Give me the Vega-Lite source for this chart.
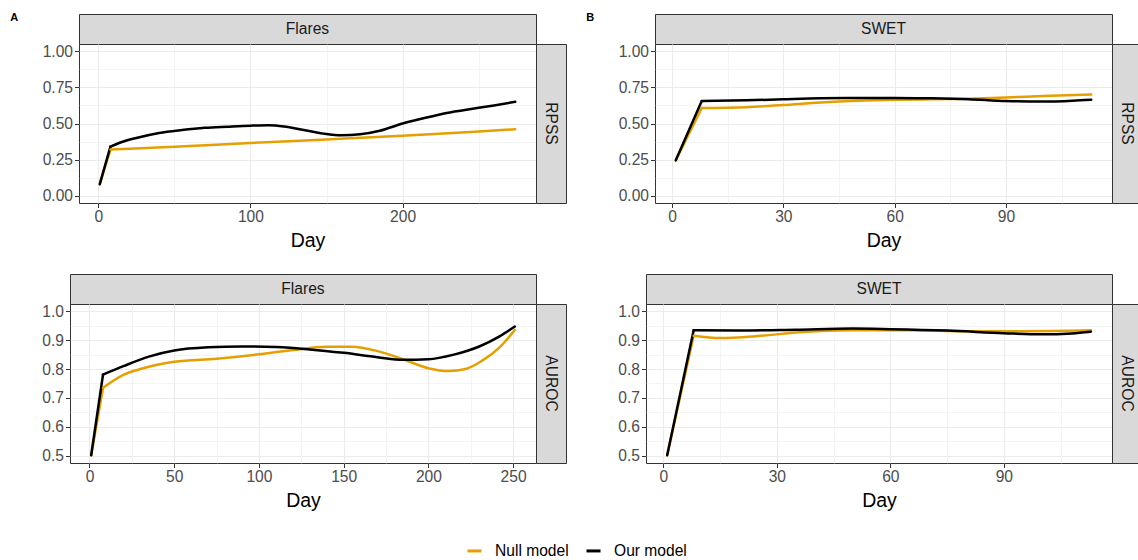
{
  "$schema": "https://vega.github.io/schema/vega-lite/v6.json",
  "background": "white",
  "padding": {"left": 10, "top": 11, "right": 0, "bottom": 5},
  "config": {
    "font": "Liberation Sans",
    "view": {"stroke": "#333333", "strokeWidth": 1},
    "axis": {
      "domain": false,
      "labelFontSize": 15.6,
      "labelColor": "#4d4d4d",
      "labelPadding": 2,
      "labelOverlap": false,
      "tickColor": "#333333",
      "tickSize": 4.5,
      "tickWidth": 1,
      "gridColor": "#ebebeb",
      "titleFontSize": 19.5,
      "titleFontWeight": "normal",
      "titleColor": "#000000",
      "titlePadding": 6
    },
    "legend": {
      "orient": "bottom",
      "direction": "horizontal",
      "title": null,
      "symbolType": "stroke",
      "symbolStrokeWidth": 3,
      "symbolSize": 196,
      "labelFontSize": 15.6,
      "labelColor": "#000000",
      "labelOffset": 12,
      "columnPadding": 11,
      "offset": 31,
      "layout": {"bottom": {"anchor": "middle"}}
    },
    "title": {"font": "Liberation Sans", "fontSize": 11, "fontWeight": "bold", "color": "#000000"}
  },
  "datasets": {
    "scores": [
      {"dataset": "Flares", "metric": "RPSS", "model": "Null model", "day": 1, "value": 0.08},
      {"dataset": "Flares", "metric": "RPSS", "model": "Null model", "day": 8, "value": 0.32},
      {"dataset": "Flares", "metric": "RPSS", "model": "Null model", "day": 50, "value": 0.34},
      {"dataset": "Flares", "metric": "RPSS", "model": "Null model", "day": 100, "value": 0.365},
      {"dataset": "Flares", "metric": "RPSS", "model": "Null model", "day": 150, "value": 0.39},
      {"dataset": "Flares", "metric": "RPSS", "model": "Null model", "day": 200, "value": 0.415},
      {"dataset": "Flares", "metric": "RPSS", "model": "Null model", "day": 250, "value": 0.445},
      {"dataset": "Flares", "metric": "RPSS", "model": "Null model", "day": 274, "value": 0.46},
      {"dataset": "Flares", "metric": "RPSS", "model": "Our model", "day": 1, "value": 0.08},
      {"dataset": "Flares", "metric": "RPSS", "model": "Our model", "day": 8, "value": 0.34},
      {"dataset": "Flares", "metric": "RPSS", "model": "Our model", "day": 15, "value": 0.37},
      {"dataset": "Flares", "metric": "RPSS", "model": "Our model", "day": 25, "value": 0.4},
      {"dataset": "Flares", "metric": "RPSS", "model": "Our model", "day": 40, "value": 0.435},
      {"dataset": "Flares", "metric": "RPSS", "model": "Our model", "day": 55, "value": 0.455},
      {"dataset": "Flares", "metric": "RPSS", "model": "Our model", "day": 70, "value": 0.47},
      {"dataset": "Flares", "metric": "RPSS", "model": "Our model", "day": 85, "value": 0.478},
      {"dataset": "Flares", "metric": "RPSS", "model": "Our model", "day": 100, "value": 0.485},
      {"dataset": "Flares", "metric": "RPSS", "model": "Our model", "day": 112, "value": 0.488},
      {"dataset": "Flares", "metric": "RPSS", "model": "Our model", "day": 122, "value": 0.48},
      {"dataset": "Flares", "metric": "RPSS", "model": "Our model", "day": 135, "value": 0.455},
      {"dataset": "Flares", "metric": "RPSS", "model": "Our model", "day": 148, "value": 0.43},
      {"dataset": "Flares", "metric": "RPSS", "model": "Our model", "day": 160, "value": 0.418},
      {"dataset": "Flares", "metric": "RPSS", "model": "Our model", "day": 172, "value": 0.425},
      {"dataset": "Flares", "metric": "RPSS", "model": "Our model", "day": 185, "value": 0.45},
      {"dataset": "Flares", "metric": "RPSS", "model": "Our model", "day": 200, "value": 0.5},
      {"dataset": "Flares", "metric": "RPSS", "model": "Our model", "day": 215, "value": 0.54},
      {"dataset": "Flares", "metric": "RPSS", "model": "Our model", "day": 230, "value": 0.575},
      {"dataset": "Flares", "metric": "RPSS", "model": "Our model", "day": 245, "value": 0.6},
      {"dataset": "Flares", "metric": "RPSS", "model": "Our model", "day": 260, "value": 0.625},
      {"dataset": "Flares", "metric": "RPSS", "model": "Our model", "day": 274, "value": 0.65},

      {"dataset": "SWET", "metric": "RPSS", "model": "Null model", "day": 1, "value": 0.245},
      {"dataset": "SWET", "metric": "RPSS", "model": "Null model", "day": 8, "value": 0.607},
      {"dataset": "SWET", "metric": "RPSS", "model": "Null model", "day": 20, "value": 0.613},
      {"dataset": "SWET", "metric": "RPSS", "model": "Null model", "day": 30, "value": 0.628},
      {"dataset": "SWET", "metric": "RPSS", "model": "Null model", "day": 40, "value": 0.645},
      {"dataset": "SWET", "metric": "RPSS", "model": "Null model", "day": 50, "value": 0.657},
      {"dataset": "SWET", "metric": "RPSS", "model": "Null model", "day": 60, "value": 0.664},
      {"dataset": "SWET", "metric": "RPSS", "model": "Null model", "day": 70, "value": 0.667},
      {"dataset": "SWET", "metric": "RPSS", "model": "Null model", "day": 80, "value": 0.672},
      {"dataset": "SWET", "metric": "RPSS", "model": "Null model", "day": 90, "value": 0.68},
      {"dataset": "SWET", "metric": "RPSS", "model": "Null model", "day": 100, "value": 0.69},
      {"dataset": "SWET", "metric": "RPSS", "model": "Null model", "day": 113, "value": 0.7},
      {"dataset": "SWET", "metric": "RPSS", "model": "Our model", "day": 1, "value": 0.245},
      {"dataset": "SWET", "metric": "RPSS", "model": "Our model", "day": 8, "value": 0.655},
      {"dataset": "SWET", "metric": "RPSS", "model": "Our model", "day": 20, "value": 0.66},
      {"dataset": "SWET", "metric": "RPSS", "model": "Our model", "day": 30, "value": 0.668},
      {"dataset": "SWET", "metric": "RPSS", "model": "Our model", "day": 40, "value": 0.675},
      {"dataset": "SWET", "metric": "RPSS", "model": "Our model", "day": 50, "value": 0.677},
      {"dataset": "SWET", "metric": "RPSS", "model": "Our model", "day": 60, "value": 0.676},
      {"dataset": "SWET", "metric": "RPSS", "model": "Our model", "day": 70, "value": 0.674},
      {"dataset": "SWET", "metric": "RPSS", "model": "Our model", "day": 80, "value": 0.668},
      {"dataset": "SWET", "metric": "RPSS", "model": "Our model", "day": 90, "value": 0.655},
      {"dataset": "SWET", "metric": "RPSS", "model": "Our model", "day": 100, "value": 0.652},
      {"dataset": "SWET", "metric": "RPSS", "model": "Our model", "day": 108, "value": 0.658},
      {"dataset": "SWET", "metric": "RPSS", "model": "Our model", "day": 113, "value": 0.665},

      {"dataset": "Flares", "metric": "AUROC", "model": "Null model", "day": 1, "value": 0.502},
      {"dataset": "Flares", "metric": "AUROC", "model": "Null model", "day": 8, "value": 0.735},
      {"dataset": "Flares", "metric": "AUROC", "model": "Null model", "day": 20, "value": 0.78},
      {"dataset": "Flares", "metric": "AUROC", "model": "Null model", "day": 30, "value": 0.8},
      {"dataset": "Flares", "metric": "AUROC", "model": "Null model", "day": 50, "value": 0.825},
      {"dataset": "Flares", "metric": "AUROC", "model": "Null model", "day": 75, "value": 0.836},
      {"dataset": "Flares", "metric": "AUROC", "model": "Null model", "day": 100, "value": 0.851},
      {"dataset": "Flares", "metric": "AUROC", "model": "Null model", "day": 120, "value": 0.866},
      {"dataset": "Flares", "metric": "AUROC", "model": "Null model", "day": 140, "value": 0.877},
      {"dataset": "Flares", "metric": "AUROC", "model": "Null model", "day": 155, "value": 0.877},
      {"dataset": "Flares", "metric": "AUROC", "model": "Null model", "day": 170, "value": 0.862},
      {"dataset": "Flares", "metric": "AUROC", "model": "Null model", "day": 185, "value": 0.834},
      {"dataset": "Flares", "metric": "AUROC", "model": "Null model", "day": 200, "value": 0.803},
      {"dataset": "Flares", "metric": "AUROC", "model": "Null model", "day": 212, "value": 0.793},
      {"dataset": "Flares", "metric": "AUROC", "model": "Null model", "day": 222, "value": 0.8},
      {"dataset": "Flares", "metric": "AUROC", "model": "Null model", "day": 232, "value": 0.83},
      {"dataset": "Flares", "metric": "AUROC", "model": "Null model", "day": 242, "value": 0.875},
      {"dataset": "Flares", "metric": "AUROC", "model": "Null model", "day": 251, "value": 0.935},
      {"dataset": "Flares", "metric": "AUROC", "model": "Our model", "day": 1, "value": 0.502},
      {"dataset": "Flares", "metric": "AUROC", "model": "Our model", "day": 8, "value": 0.781},
      {"dataset": "Flares", "metric": "AUROC", "model": "Our model", "day": 20, "value": 0.81},
      {"dataset": "Flares", "metric": "AUROC", "model": "Our model", "day": 35, "value": 0.843},
      {"dataset": "Flares", "metric": "AUROC", "model": "Our model", "day": 50, "value": 0.864},
      {"dataset": "Flares", "metric": "AUROC", "model": "Our model", "day": 70, "value": 0.875},
      {"dataset": "Flares", "metric": "AUROC", "model": "Our model", "day": 90, "value": 0.878},
      {"dataset": "Flares", "metric": "AUROC", "model": "Our model", "day": 110, "value": 0.876},
      {"dataset": "Flares", "metric": "AUROC", "model": "Our model", "day": 130, "value": 0.868},
      {"dataset": "Flares", "metric": "AUROC", "model": "Our model", "day": 150, "value": 0.856},
      {"dataset": "Flares", "metric": "AUROC", "model": "Our model", "day": 170, "value": 0.841},
      {"dataset": "Flares", "metric": "AUROC", "model": "Our model", "day": 185, "value": 0.832},
      {"dataset": "Flares", "metric": "AUROC", "model": "Our model", "day": 200, "value": 0.834},
      {"dataset": "Flares", "metric": "AUROC", "model": "Our model", "day": 215, "value": 0.85},
      {"dataset": "Flares", "metric": "AUROC", "model": "Our model", "day": 230, "value": 0.878},
      {"dataset": "Flares", "metric": "AUROC", "model": "Our model", "day": 242, "value": 0.913},
      {"dataset": "Flares", "metric": "AUROC", "model": "Our model", "day": 251, "value": 0.947},

      {"dataset": "SWET", "metric": "AUROC", "model": "Null model", "day": 1, "value": 0.502},
      {"dataset": "SWET", "metric": "AUROC", "model": "Null model", "day": 8, "value": 0.915},
      {"dataset": "SWET", "metric": "AUROC", "model": "Null model", "day": 15, "value": 0.907},
      {"dataset": "SWET", "metric": "AUROC", "model": "Null model", "day": 25, "value": 0.914},
      {"dataset": "SWET", "metric": "AUROC", "model": "Null model", "day": 35, "value": 0.926},
      {"dataset": "SWET", "metric": "AUROC", "model": "Null model", "day": 50, "value": 0.934},
      {"dataset": "SWET", "metric": "AUROC", "model": "Null model", "day": 65, "value": 0.934},
      {"dataset": "SWET", "metric": "AUROC", "model": "Null model", "day": 80, "value": 0.931},
      {"dataset": "SWET", "metric": "AUROC", "model": "Null model", "day": 95, "value": 0.931},
      {"dataset": "SWET", "metric": "AUROC", "model": "Null model", "day": 113, "value": 0.934},
      {"dataset": "SWET", "metric": "AUROC", "model": "Our model", "day": 1, "value": 0.502},
      {"dataset": "SWET", "metric": "AUROC", "model": "Our model", "day": 8, "value": 0.934},
      {"dataset": "SWET", "metric": "AUROC", "model": "Our model", "day": 20, "value": 0.933},
      {"dataset": "SWET", "metric": "AUROC", "model": "Our model", "day": 35, "value": 0.936},
      {"dataset": "SWET", "metric": "AUROC", "model": "Our model", "day": 50, "value": 0.94},
      {"dataset": "SWET", "metric": "AUROC", "model": "Our model", "day": 60, "value": 0.938},
      {"dataset": "SWET", "metric": "AUROC", "model": "Our model", "day": 75, "value": 0.933},
      {"dataset": "SWET", "metric": "AUROC", "model": "Our model", "day": 90, "value": 0.924},
      {"dataset": "SWET", "metric": "AUROC", "model": "Our model", "day": 100, "value": 0.92},
      {"dataset": "SWET", "metric": "AUROC", "model": "Our model", "day": 108, "value": 0.923},
      {"dataset": "SWET", "metric": "AUROC", "model": "Our model", "day": 113, "value": 0.929}
    ]
  },
  "resolve": {"scale": {"color": "shared"}, "legend": {"color": "shared"}},
  "spacing": 19,
  "hconcat": [
    {
      "title": {"text": "A", "anchor": "start", "frame": "bounds", "offset": 0, "dx": -31, "dy": 9},
      "spacing": 22,
      "vconcat": [
        {
          "columns": 3, "spacing": 0, "bounds": "flush",
          "concat": [
            {"width": 8.5, "height": 30, "view": {"stroke": null},
             "data": {"values": [{"label": ""}]},
             "mark": {"type": "text"},
             "encoding": {"text": {"field": "label"}}},
            {"width": 457, "height": 30, "view": {"fill": "#d9d9d9", "stroke": "#333333"},
             "data": {"values": [{"label": "Flares"}]},
             "mark": {"type": "text", "fontSize": 15.6, "color": "#1a1a1a"},
             "encoding": {"text": {"field": "label"}}},
            {"width": 30, "height": 30, "view": {"stroke": null},
             "data": {"values": [{"label": ""}]},
             "mark": {"type": "text"},
             "encoding": {"text": {"field": "label"}}},
            {"width": 8.5, "height": 159, "view": {"stroke": null},
             "data": {"values": [{"label": ""}]},
             "mark": {"type": "text"},
             "encoding": {"text": {"field": "label"}}},
            {"width": 457, "height": 159,
             "data": {"name": "scores"},
             "transform": [{"filter": "datum.dataset === 'Flares' && datum.metric === 'RPSS'"}],
             "encoding": {
               "x": {"field": "day", "type": "quantitative",
                     "scale": {"domain": [-12.65, 287.65], "nice": false, "zero": false},
                     "axis": {"title": "Day", "values": [0, 50, 100, 150, 200, 250],
                              "labelExpr": "datum.value % 100 === 0 ? datum.label : ''",
                              "gridWidth": {"condition": {"test": "datum.value % 100 === 0", "value": 1.1}, "value": 0.55},
                              "tickOpacity": {"condition": {"test": "datum.value % 100 === 0", "value": 1}, "value": 0}}},
               "y": {"field": "value", "type": "quantitative",
                     "scale": {"domain": [-0.05, 1.05], "nice": false, "zero": false},
                     "axis": {"title": null, "format": ".2f",
                              "values": [0, 0.125, 0.25, 0.375, 0.5, 0.625, 0.75, 0.875, 1],
                              "labelExpr": "round(datum.value * 8) % 2 === 0 ? datum.label : ''",
                              "gridWidth": {"condition": {"test": "round(datum.value * 8) % 2 === 0", "value": 1.1}, "value": 0.55},
                              "tickOpacity": {"condition": {"test": "round(datum.value * 8) % 2 === 0", "value": 1}, "value": 0}}},
               "color": {"field": "model", "type": "nominal",
                         "scale": {"domain": ["Null model", "Our model"], "range": ["#E69F00", "#000000"]}}
             },
             "layer": [
               {"transform": [{"filter": "datum.day <= 8"}], "mark": {"type": "line", "strokeWidth": 2.5, "strokeCap": "round"}},
               {"transform": [{"filter": "datum.day >= 8"}], "mark": {"type": "line", "interpolate": "monotone", "strokeWidth": 2.5, "strokeCap": "round"}}
             ]},
            {"width": 30, "height": 159, "view": {"fill": "#d9d9d9", "stroke": "#333333"},
             "data": {"values": [{"label": "RPSS"}]},
             "mark": {"type": "text", "fontSize": 15.6, "color": "#1a1a1a", "angle": 90},
             "encoding": {"text": {"field": "label"}}}
          ]
        },
        {
          "columns": 2, "spacing": 0, "bounds": "flush",
          "concat": [
            {"width": 466, "height": 30, "view": {"fill": "#d9d9d9", "stroke": "#333333"},
             "data": {"values": [{"label": "Flares"}]},
             "mark": {"type": "text", "fontSize": 15.6, "color": "#1a1a1a"},
             "encoding": {"text": {"field": "label"}}},
            {"width": 30, "height": 30, "view": {"stroke": null},
             "data": {"values": [{"label": ""}]},
             "mark": {"type": "text"},
             "encoding": {"text": {"field": "label"}}},
            {"width": 466, "height": 159,
             "data": {"name": "scores"},
             "transform": [{"filter": "datum.dataset === 'Flares' && datum.metric === 'AUROC'"}],
             "encoding": {
               "x": {"field": "day", "type": "quantitative",
                     "scale": {"domain": [-11.5, 263.5], "nice": false, "zero": false},
                     "axis": {"title": "Day", "values": [0, 25, 50, 75, 100, 125, 150, 175, 200, 225, 250],
                              "labelExpr": "datum.value % 50 === 0 ? datum.label : ''",
                              "gridWidth": {"condition": {"test": "datum.value % 50 === 0", "value": 1.1}, "value": 0.55},
                              "tickOpacity": {"condition": {"test": "datum.value % 50 === 0", "value": 1}, "value": 0}}},
               "y": {"field": "value", "type": "quantitative",
                     "scale": {"domain": [0.475, 1.025], "nice": false, "zero": false},
                     "axis": {"title": null, "format": ".1f",
                              "values": [0.5, 0.55, 0.6, 0.65, 0.7, 0.75, 0.8, 0.85, 0.9, 0.95, 1],
                              "labelExpr": "round(datum.value * 20) % 2 === 0 ? datum.label : ''",
                              "gridWidth": {"condition": {"test": "round(datum.value * 20) % 2 === 0", "value": 1.1}, "value": 0.55},
                              "tickOpacity": {"condition": {"test": "round(datum.value * 20) % 2 === 0", "value": 1}, "value": 0}}},
               "color": {"field": "model", "type": "nominal",
                         "scale": {"domain": ["Null model", "Our model"], "range": ["#E69F00", "#000000"]}}
             },
             "layer": [
               {"transform": [{"filter": "datum.day <= 8"}], "mark": {"type": "line", "strokeWidth": 2.5, "strokeCap": "round"}},
               {"transform": [{"filter": "datum.day >= 8"}], "mark": {"type": "line", "interpolate": "monotone", "strokeWidth": 2.5, "strokeCap": "round"}}
             ]},
            {"width": 30, "height": 159, "view": {"fill": "#d9d9d9", "stroke": "#333333"},
             "data": {"values": [{"label": "AUROC"}]},
             "mark": {"type": "text", "fontSize": 15.6, "color": "#1a1a1a", "angle": 90},
             "encoding": {"text": {"field": "label"}}}
          ]
        }
      ]
    },
    {
      "title": {"text": "B", "anchor": "start", "frame": "bounds", "offset": 0, "dx": -31, "dy": 9},
      "spacing": 22,
      "vconcat": [
        {
          "columns": 3, "spacing": 0, "bounds": "flush",
          "concat": [
            {"width": 8.5, "height": 30, "view": {"stroke": null},
             "data": {"values": [{"label": ""}]},
             "mark": {"type": "text"},
             "encoding": {"text": {"field": "label"}}},
            {"width": 457, "height": 30, "view": {"fill": "#d9d9d9", "stroke": "#333333"},
             "data": {"values": [{"label": "SWET"}]},
             "mark": {"type": "text", "fontSize": 15.6, "color": "#1a1a1a"},
             "encoding": {"text": {"field": "label"}}},
            {"width": 30, "height": 30, "view": {"stroke": null},
             "data": {"values": [{"label": ""}]},
             "mark": {"type": "text"},
             "encoding": {"text": {"field": "label"}}},
            {"width": 8.5, "height": 159, "view": {"stroke": null},
             "data": {"values": [{"label": ""}]},
             "mark": {"type": "text"},
             "encoding": {"text": {"field": "label"}}},
            {"width": 457, "height": 159,
             "data": {"name": "scores"},
             "transform": [{"filter": "datum.dataset === 'SWET' && datum.metric === 'RPSS'"}],
             "encoding": {
               "x": {"field": "day", "type": "quantitative",
                     "scale": {"domain": [-4.6, 118.6], "nice": false, "zero": false},
                     "axis": {"title": "Day", "values": [0, 15, 30, 45, 60, 75, 90, 105],
                              "labelExpr": "datum.value % 30 === 0 ? datum.label : ''",
                              "gridWidth": {"condition": {"test": "datum.value % 30 === 0", "value": 1.1}, "value": 0.55},
                              "tickOpacity": {"condition": {"test": "datum.value % 30 === 0", "value": 1}, "value": 0}}},
               "y": {"field": "value", "type": "quantitative",
                     "scale": {"domain": [-0.05, 1.05], "nice": false, "zero": false},
                     "axis": {"title": null, "format": ".2f",
                              "values": [0, 0.125, 0.25, 0.375, 0.5, 0.625, 0.75, 0.875, 1],
                              "labelExpr": "round(datum.value * 8) % 2 === 0 ? datum.label : ''",
                              "gridWidth": {"condition": {"test": "round(datum.value * 8) % 2 === 0", "value": 1.1}, "value": 0.55},
                              "tickOpacity": {"condition": {"test": "round(datum.value * 8) % 2 === 0", "value": 1}, "value": 0}}},
               "color": {"field": "model", "type": "nominal",
                         "scale": {"domain": ["Null model", "Our model"], "range": ["#E69F00", "#000000"]}}
             },
             "layer": [
               {"transform": [{"filter": "datum.day <= 8"}], "mark": {"type": "line", "strokeWidth": 2.5, "strokeCap": "round"}},
               {"transform": [{"filter": "datum.day >= 8"}], "mark": {"type": "line", "interpolate": "monotone", "strokeWidth": 2.5, "strokeCap": "round"}}
             ]},
            {"width": 30, "height": 159, "view": {"fill": "#d9d9d9", "stroke": "#333333"},
             "data": {"values": [{"label": "RPSS"}]},
             "mark": {"type": "text", "fontSize": 15.6, "color": "#1a1a1a", "angle": 90},
             "encoding": {"text": {"field": "label"}}}
          ]
        },
        {
          "columns": 2, "spacing": 0, "bounds": "flush",
          "concat": [
            {"width": 466, "height": 30, "view": {"fill": "#d9d9d9", "stroke": "#333333"},
             "data": {"values": [{"label": "SWET"}]},
             "mark": {"type": "text", "fontSize": 15.6, "color": "#1a1a1a"},
             "encoding": {"text": {"field": "label"}}},
            {"width": 30, "height": 30, "view": {"stroke": null},
             "data": {"values": [{"label": ""}]},
             "mark": {"type": "text"},
             "encoding": {"text": {"field": "label"}}},
            {"width": 466, "height": 159,
             "data": {"name": "scores"},
             "transform": [{"filter": "datum.dataset === 'SWET' && datum.metric === 'AUROC'"}],
             "encoding": {
               "x": {"field": "day", "type": "quantitative",
                     "scale": {"domain": [-4.6, 118.6], "nice": false, "zero": false},
                     "axis": {"title": "Day", "values": [0, 15, 30, 45, 60, 75, 90, 105],
                              "labelExpr": "datum.value % 30 === 0 ? datum.label : ''",
                              "gridWidth": {"condition": {"test": "datum.value % 30 === 0", "value": 1.1}, "value": 0.55},
                              "tickOpacity": {"condition": {"test": "datum.value % 30 === 0", "value": 1}, "value": 0}}},
               "y": {"field": "value", "type": "quantitative",
                     "scale": {"domain": [0.475, 1.025], "nice": false, "zero": false},
                     "axis": {"title": null, "format": ".1f",
                              "values": [0.5, 0.55, 0.6, 0.65, 0.7, 0.75, 0.8, 0.85, 0.9, 0.95, 1],
                              "labelExpr": "round(datum.value * 20) % 2 === 0 ? datum.label : ''",
                              "gridWidth": {"condition": {"test": "round(datum.value * 20) % 2 === 0", "value": 1.1}, "value": 0.55},
                              "tickOpacity": {"condition": {"test": "round(datum.value * 20) % 2 === 0", "value": 1}, "value": 0}}},
               "color": {"field": "model", "type": "nominal",
                         "scale": {"domain": ["Null model", "Our model"], "range": ["#E69F00", "#000000"]}}
             },
             "layer": [
               {"transform": [{"filter": "datum.day <= 8"}], "mark": {"type": "line", "strokeWidth": 2.5, "strokeCap": "round"}},
               {"transform": [{"filter": "datum.day >= 8"}], "mark": {"type": "line", "interpolate": "monotone", "strokeWidth": 2.5, "strokeCap": "round"}}
             ]},
            {"width": 30, "height": 159, "view": {"fill": "#d9d9d9", "stroke": "#333333"},
             "data": {"values": [{"label": "AUROC"}]},
             "mark": {"type": "text", "fontSize": 15.6, "color": "#1a1a1a", "angle": 90},
             "encoding": {"text": {"field": "label"}}}
          ]
        }
      ]
    }
  ]
}
